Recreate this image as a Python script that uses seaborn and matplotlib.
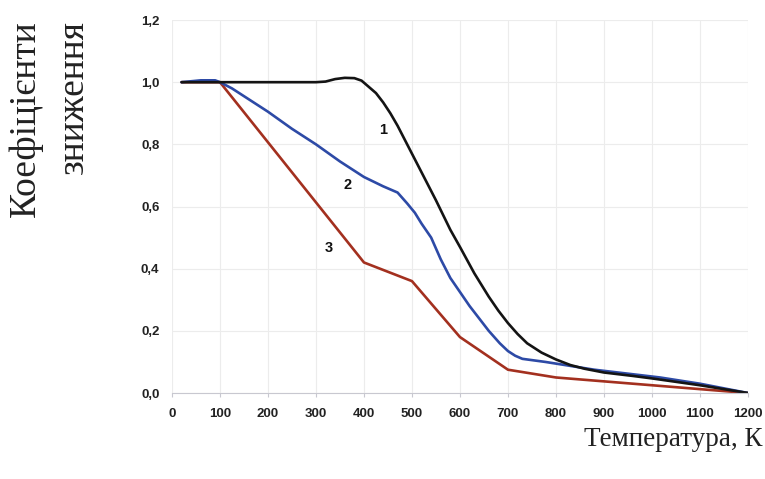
import matplotlib
matplotlib.use("Agg")
from matplotlib import pyplot as plt
import pandas as pd
import seaborn as sns

# curve 1 (black)
t1 = [20, 100, 300, 320, 340, 360, 380, 395, 410, 425, 440, 455, 470, 490,
      510, 530, 550, 580, 600, 630, 660, 680, 700, 720, 740, 770, 800, 830,
      860, 900, 960, 1000, 1100, 1200]
k1 = [1.0, 1.0, 1.0, 1.002, 1.01, 1.014, 1.013, 1.005, 0.985, 0.965, 0.935,
      0.9, 0.86, 0.80, 0.74, 0.68, 0.62, 0.525, 0.47, 0.385, 0.31, 0.265,
      0.225, 0.19, 0.16, 0.13, 0.108, 0.09, 0.078, 0.066, 0.055, 0.047,
      0.025, 0.0]
# curve 2 (blue)
t2 = [20, 60, 90, 100, 125, 150, 200, 250, 300, 350, 400, 440, 470, 490, 506,
      520, 540, 560, 580, 600, 620, 640, 660, 683, 700, 715, 730, 778, 880,
      1017, 1100, 1200]
k2 = [1.0, 1.006, 1.006, 1.0, 0.98, 0.955, 0.905, 0.85, 0.80, 0.745, 0.695,
      0.665, 0.645, 0.61, 0.58, 0.545, 0.50, 0.43, 0.37, 0.325, 0.28, 0.24,
      0.20, 0.16, 0.135, 0.12, 0.11, 0.10, 0.075, 0.05, 0.03, 0.0]
# curve 3 (red)
t3 = [20, 100, 400, 500, 600, 700, 800, 900, 1000, 1100, 1200]
k3 = [1.0, 1.0, 0.42, 0.36, 0.18, 0.075, 0.05, 0.0375, 0.025, 0.0125, 0.0]

curve_names = ["1", "2", "3"]
curve_colors = ["#141414", "#2d4aa6", "#a3301f"]
label_pos = [(440, 0.846), (365, 0.669), (327, 0.466)]

xticks = list(range(0, 1300, 100))
yticks = [0.0, 0.2, 0.4, 0.6, 0.8, 1.0, 1.2]

sns.set_style("whitegrid")

fig = plt.figure(figsize=(7.65, 4.79), dpi=100)
ax = fig.add_axes([0.2248, 0.1795, 0.7529, 0.7787])

# draw in reverse so the black curve sits on top
for t, k, c in list(zip([t1, t2, t3], [k1, k2, k3], curve_colors))[::-1]:
    d = pd.DataFrame({"T": t, "k": k})
    sns.lineplot(data=d, x="T", y="k", ax=ax, color=c, linewidth=1.9)

for name, (x, y) in zip(curve_names, label_pos):
    ax.text(x, y, name, fontsize=10.5, fontweight="bold", color="#111111",
            family="Liberation Sans", ha="center", va="center")

ax.set_xlim(0, 1200)
ax.set_ylim(0, 1.2)
ax.set_xticks(xticks)
ax.set_yticks(yticks)
ax.set_xticklabels([str(v) for v in xticks])
ax.set_yticklabels([f"{v:.1f}".replace(".", ",") for v in yticks])
for lab in ax.get_xticklabels() + ax.get_yticklabels():
    lab.set_fontweight("bold")
    lab.set_family("Liberation Sans")
    lab.set_fontsize(9.5)
    lab.set_color("#222222")
ax.grid(True, color="#ececec", linewidth=0.8)
for s in ["top", "right", "left"]:
    ax.spines[s].set_visible(False)
ax.spines["bottom"].set_color("#c8c8d0")
ax.tick_params(axis="x", length=3, color="#c8c8d0", pad=8, bottom=True)
ax.tick_params(axis="y", length=0, pad=9)
ax.set_xlabel("")
ax.set_ylabel("")

fig.text(0.033, 0.958, "Коефіцієнти", rotation=90, family="Liberation Serif",
         fontsize=27, color="#222222", ha="center", va="top")
fig.text(0.096, 0.958, "зниження", rotation=90, family="Liberation Serif",
         fontsize=27, color="#222222", ha="center", va="top")
fig.text(0.997, 0.083, "Температура, К", family="Liberation Serif",
         fontsize=19.5, color="#222222", ha="right", va="center")

fig.savefig("out.png", dpi=100)
